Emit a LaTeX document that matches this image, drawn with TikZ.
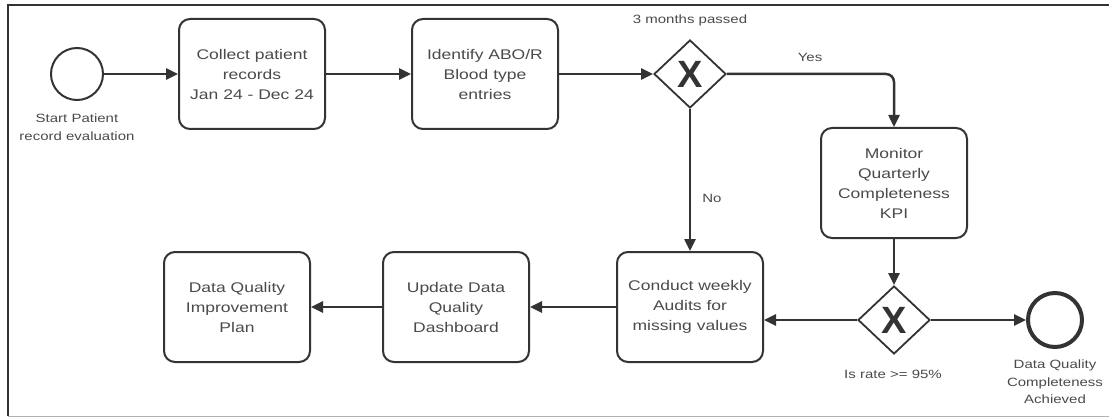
\documentclass[tikz,border=0pt]{standalone}
\usepackage{fontspec}
\setmainfont{Liberation Sans}[FakeStretch=1.25]
\newfontfamily\xfont{Liberation Sans}
\usetikzlibrary{arrows.meta,shapes.geometric}
\definecolor{ln}{HTML}{333333}
\definecolor{tx}{HTML}{4A4A4A}
\begin{document}
\begin{tikzpicture}[x=1pt,y=-1pt,
 task/.style={draw=ln, line width=2pt, rounded corners=11pt, minimum width=146pt, minimum height=110pt, align=center, text=tx, font=\fontsize{14}{20}\selectfont, inner sep=0pt},
 gate/.style={draw=ln, line width=1.8pt, diamond, minimum width=72pt, minimum height=68pt, inner sep=0pt, text=ln, font=\xfont\fontsize{38}{38}\selectfont\bfseries},
 lbl/.style={text=tx, font=\fontsize{12}{17.5}\selectfont, align=center, inner sep=0pt},
 flow/.style={draw=ln, line width=2.5pt, -{Triangle[length=12pt,width=11pt]}},
]
\useasboundingbox (0,0) rectangle (1109,417);
\draw[ln, line width=1.5pt] (1109,5) -- (8,5) -- (8,416);
\draw[gray!60, line width=1pt] (8,416) -- (1109,416);

\node[circle, draw=ln, line width=2pt, minimum size=52pt, inner sep=0pt] (start) at (77,74) {};
\node[task] (collect) at (252,74) {Collect patient\\records\\Jan 24 - Dec 24};
\node[task] (identify) at (485,74) {Identify ABO/R\\Blood type\\entries};
\node[gate] (g1) at (690,74) {X};
\node[task] (monitor) at (894,183) {Monitor\\Quarterly\\Completeness\\KPI};
\node[gate] (g2) at (894,320) {X};
\node[circle, draw=ln, line width=4pt, minimum size=54pt, inner sep=0pt] (end) at (1055,320) {};
\node[task] (conduct) at (690,307) {Conduct weekly\\Audits for\\missing values};
\node[task] (update) at (456,307) {Update Data\\Quality\\Dashboard};
\node[task] (plan) at (237,307) {Data Quality\\Improvement\\Plan};

\node[lbl] (lstart) at (77,127) {Start Patient\\record evaluation};
\node[lbl] (l3m) at (690,20) {3 months passed};
\node[lbl] (lyes) at (810,57) {Yes};
\node[lbl] (lno) at (712,198) {No};
\node[lbl] (lrate) at (893,374) {Is rate >= 95\%};
\node[lbl] (lend) at (1055,382) {Data Quality\\Completeness\\Achieved};

\draw[flow] (start) -- (collect);
\draw[flow] (collect) -- (identify);
\draw[flow] (identify) -- (g1);
\draw[flow, rounded corners=8pt] (g1.east) -| (monitor.north);
\draw[flow] (g1.south) -- (conduct.north);
\draw[flow] (monitor.south) -- (g2.north);
\draw[flow] (g2.west) -- (g2.west -| conduct.east);
\draw[flow] (g2.east) -- (end.west);
\draw[flow] (conduct) -- (update);
\draw[flow] (update) -- (plan);
\end{tikzpicture}
\end{document}
